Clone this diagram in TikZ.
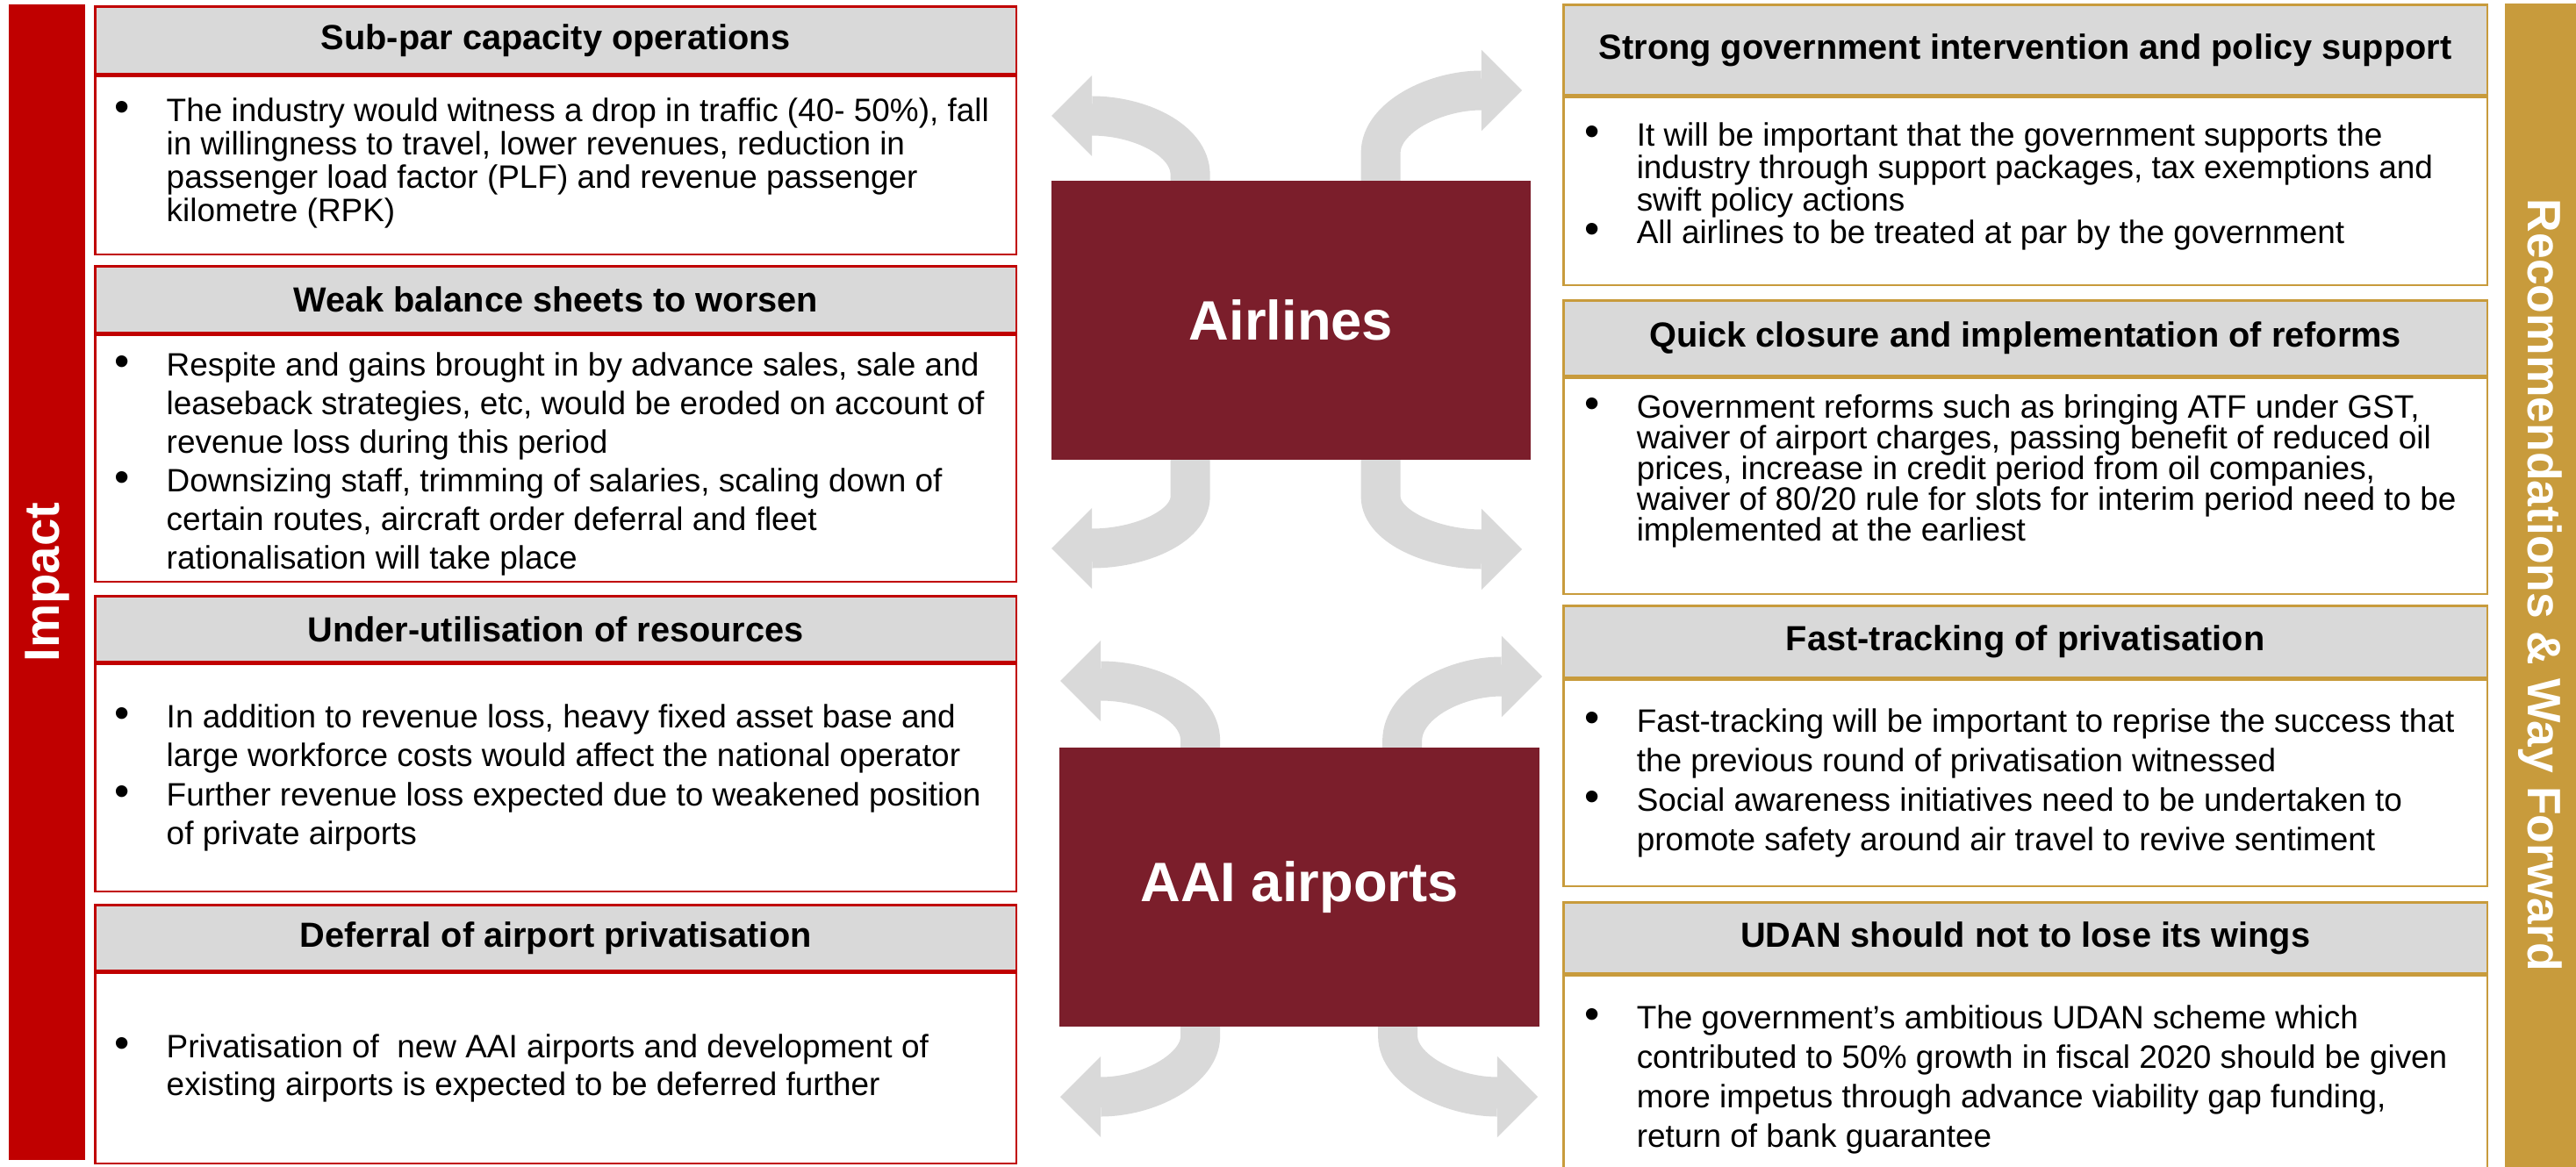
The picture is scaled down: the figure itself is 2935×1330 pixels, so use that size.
\documentclass[tikz,border=0pt]{standalone}
\usepackage{fontspec}
\setmainfont{Liberation Sans}
\usetikzlibrary{arrows.meta,calc,backgrounds}

\definecolor{impactred}{HTML}{C00000}
\definecolor{fwdgold}{HTML}{C89B3C}
\definecolor{hubred}{HTML}{7B1E2B}
\definecolor{panelgray}{HTML}{D9D9D9}

% bullet and hanging indent for the panel texts
\newcommand{\bl}{\makebox[0.59cm][l]{\fontsize{14}{14}\selectfont\textbullet}}
\newcommand{\ind}{\hspace*{0.59cm}}

\tikzset{
  sidebar/.style={inner sep=0pt, text=white, font=\fontsize{16}{18}\selectfont\bfseries},
  hub/.style={fill=hubred, text=white, minimum width=5.46cm, minimum height=3.18cm, inner sep=0pt,
    font=\fontsize{18}{21}\selectfont\bfseries},
  hdr/.style={fill=panelgray, line width=0.75pt, anchor=north west, inner sep=0pt,
    font=\fontsize{11.3}{13}\selectfont\bfseries},
  hdrL/.style={hdr, draw=impactred, minimum width=10.49cm},
  hdrR/.style={hdr, draw=fwdgold, minimum width=10.52cm},
  panel/.style={fill=white, line width=0.75pt, anchor=north west, inner sep=0pt},
  panelL/.style={panel, draw=impactred, minimum width=10.49cm},
  panelR/.style={panel, draw=fwdgold, minimum width=10.52cm},
  txt/.style={anchor=west, inner sep=0pt, align=left,
    font=\fontsize{10.5}{#1}\selectfont},
  wing/.style={draw=panelgray, line width=0.45cm,
    -{Triangle[length=0.46cm,width=0.92cm,line width=0pt]}}
}

\begin{document}
\begin{tikzpicture}[x=0.01cm,y=-0.01cm]
    \useasboundingbox (0,0) rectangle (2935,1330);
    \clip (0,0) rectangle (2935,1330);

    % side bars
    \node[sidebar, fill=impactred, rotate=90, minimum width=13.17cm, minimum height=0.87cm]
      (impact) at (53.5,663.5) {Impact};
    \node[sidebar, fill=fwdgold, rotate=-90, minimum width=13.26cm, minimum height=0.81cm,
      font=\fontsize{15.2}{18}\selectfont\bfseries]
      (fwd) at (2894.5,667) {Recommendations \& Way Forward};

    % impact panels
    \node[hdrL, minimum height=0.77cm] (lh1) at (107,6) {Sub-par capacity operations};
    \node[panelL, minimum height=2.03cm] (lb1) at (lh1.south west) {};
    \node[txt=10.8] (lt1) at ($(lb1.west)+(23,-3)$) {\bl The industry would witness a drop in traffic (40- 50\%), fall\\
      \ind in willingness to travel, lower revenues, reduction in\\
      \ind passenger load factor (PLF) and revenue passenger\\
      \ind kilometre (RPK)};

    \node[hdrL, minimum height=0.76cm] (lh2) at (107,302) {Weak balance sheets to worsen};
    \node[panelL, minimum height=2.81cm] (lb2) at (lh2.south west) {};
    \node[txt=12.5] (lt2) at ($(lb2.west)+(23,6)$) {\bl Respite and gains brought in by advance sales, sale and\\
      \ind leaseback strategies, etc, would be eroded on account of\\
      \ind revenue loss during this period\\
      \bl Downsizing staff, trimming of salaries, scaling down of\\
      \ind certain routes, aircraft order deferral and fleet\\
      \ind rationalisation will take place};

    \node[hdrL, minimum height=0.75cm] (lh3) at (107,678) {Under-utilisation of resources};
    \node[panelL, minimum height=2.59cm] (lb3) at (lh3.south west) {};
    \node[txt=12.6] (lt3) at ($(lb3.west)+(23,0)$) {\bl In addition to revenue loss, heavy fixed asset base and\\
      \ind large workforce costs would affect the national operator\\
      \bl Further revenue loss expected due to weakened position\\
      \ind of private airports};

    \node[hdrL, minimum height=0.75cm] (lh4) at (107,1030) {Deferral of airport privatisation};
    \node[panelL, minimum height=2.17cm] (lb4) at (lh4.south west) {};
    \node[txt=12.3] (lt4) at ($(lb4.west)+(23,0)$) {\bl Privatisation of\ \ new AAI airports and development of\\
      \ind existing airports is expected to be deferred further};

    % recommendation panels
    \node[hdrR, minimum height=1.03cm] (rh1) at (1780,4) {Strong government intervention and policy support};
    \node[panelR, minimum height=2.14cm] (rb1) at (rh1.south west) {};
    \node[txt=10.5] (rt1) at ($(rb1.west)+(25,-6)$) {\bl It will be important that the government supports the\\
      \ind industry through support packages, tax exemptions and\\
      \ind swift policy actions\\
      \bl All airlines to be treated at par by the government};

    \node[hdrR, minimum height=0.86cm] (rh2) at (1780,341) {Quick closure and implementation of reforms};
    \node[panelR, minimum height=2.46cm] (rb2) at (rh2.south west) {};
    \node[txt=10] (rt2) at ($(rb2.west)+(25,-17)$) {\bl Government reforms such as bringing ATF under GST,\\
      \ind waiver of airport charges, passing benefit of reduced oil\\
      \ind prices, increase in credit period from oil companies,\\
      \ind waiver of 80/20 rule for slots for interim period need to be\\
      \ind implemented at the earliest};

    \node[hdrR, minimum height=0.82cm] (rh3) at (1780,689) {Fast-tracking of privatisation};
    \node[panelR, minimum height=2.35cm] (rb3) at (rh3.south west) {};
    \node[txt=12.8] (rt3) at ($(rb3.west)+(25,0)$) {\bl Fast-tracking will be important to reprise the success that\\
      \ind the previous round of privatisation witnessed\\
      \bl Social awareness initiatives need to be undertaken to\\
      \ind promote safety around air travel to revive sentiment};

    \node[hdrR, minimum height=0.81cm] (rh4) at (1780,1027) {UDAN should not to lose its wings};
    \node[panelR, minimum height=2.37cm] (rb4) at (rh4.south west) {};
    \node[txt=12.8] (rt4) at ($(rb4.west)+(25,0)$) {\bl The government’s ambitious UDAN scheme which\\
      \ind contributed to 50\% growth in fiscal 2020 should be given\\
      \ind more impetus through advance viability gap funding,\\
      \ind return of bank guarantee};

    % hubs
    \node[hub] (airl) at (1471,365) {Airlines};
    \node[hub] (aai) at (1480.5,1011) {AAI airports};

    % arrow tips
    \coordinate (al-tl) at (1198,132);
    \coordinate (al-tr) at (1734,103);
    \coordinate (al-bl) at (1198,625);
    \coordinate (al-br) at (1734,626);
    \coordinate (aai-tl) at (1208,776);
    \coordinate (aai-tr) at (1757,771);
    \coordinate (aai-bl) at (1208,1250);
    \coordinate (aai-br) at (1752,1250);

    \begin{scope}[on background layer]
      \draw[wing] ($(airl.north west)+(159,54)$) -- ++(0,-60) .. controls +(0,-40) and +(100,0) .. (al-tl);
      \draw[wing] ($(airl.north west)+(376,54)$) -- ++(0,-85) .. controls +(0,-40) and +(-100,0) .. (al-tr);
      \draw[wing] ($(airl.south west)+(159,-54)$) -- ++(0,95) .. controls +(0,35) and +(100,0) .. (al-bl);
      \draw[wing] ($(airl.south west)+(376,-54)$) -- ++(0,95) .. controls +(0,35) and +(-100,0) .. (al-br);
      \draw[wing] ($(aai.north west)+(161,48)$) -- ++(0,-55) .. controls +(0,-42) and +(100,0) .. (aai-tl);
      \draw[wing] ($(aai.north west)+(391,48)$) -- ++(0,-55) .. controls +(0,-42) and +(-100,0) .. (aai-tr);
      \draw[wing] ($(aai.south west)+(161,-50)$) -- ++(0,60) .. controls +(0,38) and +(100,0) .. (aai-bl);
      \draw[wing] ($(aai.south west)+(386,-50)$) -- ++(0,60) .. controls +(0,38) and +(-100,0) .. (aai-br);
    \end{scope}
\end{tikzpicture}
\end{document}
